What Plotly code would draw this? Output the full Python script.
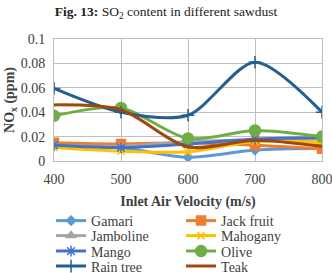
import plotly.graph_objects as go

velocity = [400, 500, 600, 700, 800]
series_names = ["Gamari", "Jack fruit", "Jamboline", "Mahogany", "Mango", "Olive", "Rain tree", "Teak"]
gamari = [0.013, 0.011, 0.003, 0.009, 0.0105]
jack_fruit = [0.015, 0.014, 0.015, 0.013, 0.010]
jamboline = [0.013, 0.012, 0.016, 0.017, 0.018]
mahogany = [0.011, 0.008, 0.0075, 0.016, 0.015]
mango = [0.013, 0.011, 0.014, 0.018, 0.019]
olive = [0.037, 0.0435, 0.0185, 0.025, 0.020]
rain_tree = [0.0595, 0.040, 0.0375, 0.081, 0.040]
teak = [0.046, 0.042, 0.0115, 0.017, 0.012]
y_ticks = [0, 0.02, 0.04, 0.06, 0.08, 0.1]
x_ticks = [400, 500, 600, 700, 800]

values = [gamari, jack_fruit, jamboline, mahogany, mango, olive, rain_tree, teak]
colors = ["#5B9BD5", "#ED7D31", "#A5A5A5", "#FFC000", "#4472C4", "#70AD47", "#255E91", "#9E480E"]
symbols = ["diamond", "square", "triangle-up", "x-thin", "asterisk", "circle", "cross-thin", None]
sizes = [7, 9, 8, 7, 9, 11, 9, 0]
legend_ids = ["legend", "legend", "legend2", "legend2", "legend3", "legend3", "legend4", "legend4"]

fig = go.Figure()
for name, ys, c, s, sz, lg in zip(series_names, values, colors, symbols, sizes, legend_ids):
    marker = dict(color=c, size=sz, line=dict(color=c, width=1.5))
    if s is not None:
        marker["symbol"] = s
    fig.add_trace(go.Scatter(
        x=velocity, y=ys, name=name, legend=lg,
        mode="lines+markers" if s is not None else "lines",
        line=dict(color=c, width=3, shape="spline", smoothing=0.8),
        marker=marker,
    ))

font_family = "Liberation Serif, Times New Roman, serif"
plot_top, plot_bottom = 39, 161
fig_h = 273
plot_h = plot_bottom - plot_top


def legend_cfg(row_center_px):
    return dict(
        orientation="h", x=-0.011, xanchor="left",
        y=(plot_bottom - row_center_px) / plot_h, yanchor="middle",
        entrywidth=85, entrywidthmode="pixels",
        font=dict(family=font_family, size=14, color="#404040"),
        bgcolor="rgba(0,0,0,0)", tracegroupgap=0, itemwidth=30,
    )


fig.update_layout(
    width=332, height=fig_h,
    margin=dict(l=54, r=10, t=plot_top, b=fig_h - plot_bottom, autoexpand=False),
    paper_bgcolor="white", plot_bgcolor="white",
    font=dict(family=font_family, size=12, color="#404040"),
    title=dict(
        text="<b>Fig. 13:</b> SO<sub>2</sub> content in different sawdust",
        x=0.5, xanchor="center", y=0.975, yanchor="top",
        font=dict(family=font_family, size=13.5, color="#222222"),
    ),
    showlegend=True,
    legend=legend_cfg(221),
    legend2=legend_cfg(236),
    legend3=legend_cfg(251.5),
    legend4=legend_cfg(266.5),
)
fig.update_xaxes(
    range=[400, 800], tickvals=x_ticks,
    showgrid=True, gridcolor="#BFBFBF", gridwidth=1,
    showline=True, linecolor="#BFBFBF", mirror=True,
    ticks="", zeroline=False, ticklabelstandoff=5, ticklabeloverflow="allow",
    tickfont=dict(family=font_family, size=14, color="#404040"),
    title=dict(text="<b>Inlet Air Velocity (m/s)</b>", standoff=10,
               font=dict(family=font_family, size=14, color="#404040")),
)
fig.update_yaxes(
    range=[0, 0.1], tickvals=y_ticks,
    showgrid=True, gridcolor="#BFBFBF", gridwidth=1,
    showline=True, linecolor="#BFBFBF", mirror=True,
    ticks="", zeroline=False, ticklabelstandoff=5, ticklabeloverflow="allow",
    tickfont=dict(family=font_family, size=14, color="#404040"),
    title=dict(text="<b>NO<sub>x</sub> (ppm)</b>", standoff=2,
               font=dict(family=font_family, size=14, color="#404040")),
)

fig.write_html("out.html")
